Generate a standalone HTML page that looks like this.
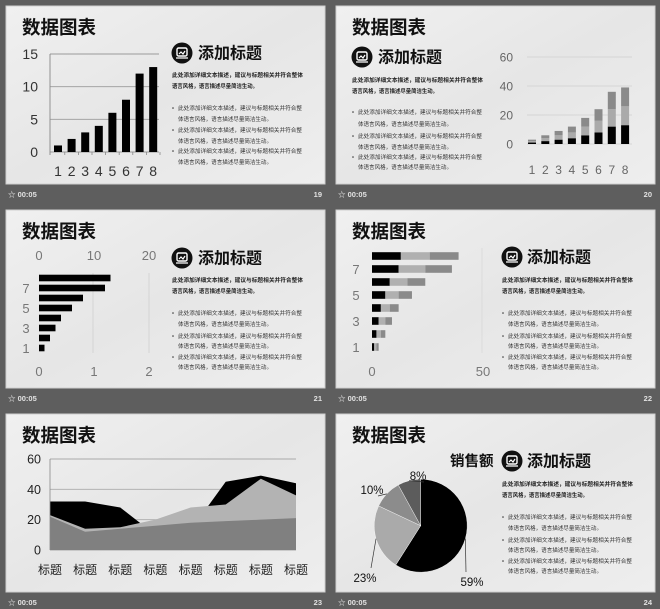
<!DOCTYPE html>
<html><head><meta charset="utf-8">
<style>
html,body{margin:0;padding:0;background:#5e5e5e;}
svg{display:block;font-family:"Liberation Sans","Noto Sans CJK SC",sans-serif;}
</style></head>
<body>
<svg id="root" width="660" height="609" viewBox="0 0 660 609">
<defs>
<linearGradient id="paper" x1="0" y1="0" x2="1" y2="1">
<stop offset="0" stop-color="#f0f0f0"/><stop offset="0.5" stop-color="#e6e6e6"/><stop offset="1" stop-color="#eeeeee"/>
</linearGradient>
</defs>
</svg>
<script>
// ---- chart data ----
const S1_CATS=["1","2","3","4","5","6","7","8"];
const S1_VALS=[1,2,3,4,6,8,12,13];
const S1_TICKS=[0,5,10,15];
const S2_CATS=["1","2","3","4","5","6","7","8"];
const S2_A=[1,2,3,4,6,8,12,13];
const S2_B=[1,2,3,4,6,8,12,13];
const S2_C=[1,2,3,4,6,8,12,13];
const S2_TICKS=[0,20,40,60];
const S3_VALS=[1,2,3,4,6,8,12,13];
const S3_TOP_TICKS=[0,10,20];
const S3_BOTTOM_TICKS=[0,1,2];
const S3_LEFT_LABELS=["1","3","5","7"];
const S4_A=[1,2,3,4,6,8,12,13];
const S4_B=[1,2,3,4,6,8,12,13];
const S4_C=[1,2,3,4,6,8,12,13];
const S4_TICKS=[0,50];
const S4_LEFT_LABELS=["1","3","5","7"];
const S5_CATS=["标题","标题","标题","标题","标题","标题","标题","标题"];
const S5_BLACK=[32,32,28,10,13,45,49,44];
const S5_LIGHT=[23,14,15,20,28,30,47,36];
const S5_DARK=[22,12,14,16,18,19,20,21];
const S5_TICKS=[0,20,40,60];
const S6_LABELS=["59%","23%","10%","8%"];
const S6_VALS=[59,23,10,8];

const NS="http://www.w3.org/2000/svg";
const root=document.getElementById('root');
function mk(tag,attrs,parent,txt){const e=document.createElementNS(NS,tag);for(const k in attrs)e.setAttribute(k,attrs[k]);if(txt!==undefined)e.textContent=txt;(parent||root).appendChild(e);return e;}

const slides=[[6,6,"19"],[336,6,"20"],[6,210,"21"],[336,210,"22"],[6,414,"23"],[336,414,"24"]];
const G=[];
slides.forEach((s,i)=>{
  const g=mk('g',{transform:`translate(${s[0]},${s[1]})`});
  
  
  const bg=mk('rect',{x:0,y:0,width:319,height:178,fill:'url(#paper)',stroke:'#cfcfcf','stroke-width':1},g);
  
  
  const t=mk('text',{x:16,y:28,'font-size':18.5,'font-weight':'bold',fill:'#111'},g,'数据图表');
  
  
  const fy=s[1]+191;
  const ft=mk('text',{x:s[0]+2,y:fy,'font-size':7.5,'font-weight':'bold',fill:'#e2e2e2'},root,'☆ 00:05');
  
  
  const fn=mk('text',{x:s[0]+316,y:fy,'font-size':7.5,'font-weight':'bold',fill:'#e2e2e2','text-anchor':'end'},root,s[2]);
  
  
  G.push(g);
});

function textBlock(g,ix,iy,hx,px,py,bx,by){
  const ic=mk('g',{},g);
  
  
  mk('circle',{cx:ix,cy:iy,r:10.5,fill:'#111'},ic);
  mk('rect',{x:ix-5,y:iy-5,width:10,height:8,rx:1.5,fill:'none',stroke:'#fff','stroke-width':1.4},ic);
  mk('path',{d:`M${ix-3} ${iy+1} L${ix-1} ${iy-1} L${ix+1} ${iy+1} L${ix+3} ${iy-2} M${ix-6} ${iy+5} L${ix+6} ${iy+5}`,fill:'none',stroke:'#fff','stroke-width':1.2},ic);
  const h=mk('text',{x:hx,y:iy+5.5,'font-size':16,'font-weight':'bold',fill:'#111'},g,'添加标题');
  
  
  const p1=mk('text',{x:px,y:py,'font-size':5.6,'font-weight':'bold',fill:'#222',textLength:131,lengthAdjust:'spacingAndGlyphs'},g,'此处添加详细文本描述，建议与标题相关并符合整体');
  
  
  const p2=mk('text',{x:px,y:py+11,'font-size':5.6,'font-weight':'bold',fill:'#222',textLength:86,lengthAdjust:'spacingAndGlyphs'},g,'语言风格，语言描述尽量简洁生动。');
  
  
  for(let k=0;k<3;k++){
    const y0=by[2*k],y1=by[2*k+1];
    const d=mk('circle',{cx:bx,cy:y0-2,r:0.8,fill:'#333'},g);
    
    
    const a=mk('text',{x:bx+5,y:y0,'font-size':5.4,fill:'#333',textLength:124,lengthAdjust:'spacingAndGlyphs'},g,'此处添加详细文本描述，建议与标题相关并符合整');
    
    
    const b=mk('text',{x:bx+5,y:y1,'font-size':5.4,fill:'#333',textLength:94,lengthAdjust:'spacingAndGlyphs'},g,'体语言风格，语言描述尽量简洁生动。');
    
    
  }
}
textBlock(G[0],176,47,192,166,71,167,[104,115,126,137,147,158]);
textBlock(G[1],26,51,42,16,76,17,[108,120,132,143,153,163]);
textBlock(G[2],176,48,192,166,72,167,[105,116,128,138,149,159]);
textBlock(G[3],176,47,191,166,72,167,[105,116,128,138,149,159]);
textBlock(G[5],176,47,191,166,72,167,[105,116,128,138,149,159]);

// ---- slide 1: column chart ----
(function(){
  const g=G[0];
  const y=v=>146-v/15*98, x=i=>52+i*13.6;
  S1_TICKS.forEach(t=>{
    const l=mk('line',{x1:44,x2:153,y1:y(t),y2:y(t),stroke:'#9a9a9a','stroke-width':0.9},g);
    
    
    const tl=mk('text',{x:32,y:y(t)+5,'font-size':14,fill:'#333','text-anchor':'end'},g,String(t));
    
    
  });
  const ax=mk('line',{x1:44,x2:44,y1:y(15),y2:y(0)+3,stroke:'#888','stroke-width':0.9},g);
  
  
  S1_VALS.forEach((v,i)=>{
    const b=mk('rect',{x:x(i)-4,y:y(v),width:8,height:y(0)-y(v),fill:'#000'},g);
    
    
    const tl=mk('text',{x:x(i),y:170,'font-size':14,fill:'#333','text-anchor':'middle'},g,S1_CATS[i]);
    
    
    mk('line',{x1:x(i)+6.8,x2:x(i)+6.8,y1:y(0),y2:y(0)+3,stroke:'#888','stroke-width':0.8},g);
  });
})();

// ---- slide 2: stacked columns ----
(function(){
  const g=G[1];
  const y=v=>138-v/60*87, x=i=>196+i*13.3;
  S2_TICKS.forEach(t=>{
    const l=mk('line',{x1:191,x2:296,y1:y(t),y2:y(t),stroke:'#cfcfcf','stroke-width':0.8},g);
    
    
    const tl=mk('text',{x:177,y:y(t)+4.5,'font-size':12,fill:'#666','text-anchor':'end'},g,String(t));
    
    
  });
  const series=[[S2_A,'#000'],[S2_B,'#aaaaaa'],[S2_C,'#8a8a8a']];
  S2_CATS.forEach((c,i)=>{
    let base=0;
    series.forEach((s,k)=>{
      const v=s[0][i];
      const r=mk('rect',{x:x(i)-4,y:y(base+v),width:8,height:y(base)-y(base+v),fill:s[1]},g);
      
      
      base+=v;
    });
    const tl=mk('text',{x:x(i),y:168,'font-size':12,fill:'#666','text-anchor':'middle'},g,c);
    
    
  });
})();

// ---- slide 3: horizontal bars ----
(function(){
  const g=G[2];
  const x=v=>33+v*5.5, yb=i=>138-i*10;
  [87,143].forEach(gx=>{
    const l=mk('line',{x1:gx,x2:gx,y1:63,y2:143,stroke:'#d0d0d0','stroke-width':0.8},g);
    
    
  });
  S3_TOP_TICKS.forEach(t=>{
    const tl=mk('text',{x:x(t),y:50,'font-size':13,fill:'#777','text-anchor':'middle'},g,String(t));
    
    
  });
  S3_BOTTOM_TICKS.forEach(t=>{
    const tl=mk('text',{x:33+t*55,y:166,'font-size':13,fill:'#777','text-anchor':'middle'},g,String(t));
    
    
  });
  S3_VALS.forEach((v,i)=>{
    const b=mk('rect',{x:x(0),y:yb(i)-3.3,width:x(v)-x(0),height:6.6,fill:'#000'},g);
    
    
  });
  S3_LEFT_LABELS.forEach(l=>{
    const i=parseInt(l)-1;
    const tl=mk('text',{x:20,y:yb(i)+5,'font-size':13,fill:'#777','text-anchor':'middle'},g,l);
    
    
  });
})();

// ---- slide 4: stacked horizontal bars ----
(function(){
  const g=G[3];
  const x=v=>36+v*2.22, yb=i=>137-i*13;
  const vl=mk('line',{x1:146,x2:146,y1:38,y2:143,stroke:'#d8d8d8','stroke-width':0.8},g);
  
  
  S4_TICKS.forEach(t=>{
    const tl=mk('text',{x:x(t),y:166,'font-size':13,fill:'#777','text-anchor':'middle'},g,String(t));
    
    
  });
  const series=[[S4_A,'#000'],[S4_B,'#b0b0b0'],[S4_C,'#8a8a8a']];
  S4_A.forEach((_,i)=>{
    let base=0;
    series.forEach((s,k)=>{
      const v=s[0][i];
      const r=mk('rect',{x:x(base),y:yb(i)-3.8,width:x(base+v)-x(base),height:7.6,fill:s[1]},g);
      
      
      base+=v;
    });
  });
  S4_LEFT_LABELS.forEach(l=>{
    const i=parseInt(l)-1;
    const tl=mk('text',{x:20,y:yb(i)+5,'font-size':13,fill:'#777','text-anchor':'middle'},g,l);
    
    
  });
})();

// ---- slide 5: area chart ----
(function(){
  const g=G[4];
  const y=v=>136-v/60*91, x=i=>44+i*(246/7);
  S5_TICKS.forEach(t=>{
    const l=mk('line',{x1:44,x2:290,y1:y(t),y2:y(t),stroke:'#aaa','stroke-width':0.9},g);
    
    
    const tl=mk('text',{x:35,y:y(t)+4.5,'font-size':12.5,fill:'#222','text-anchor':'end'},g,String(t));
    
    
  });
  const series=[[S5_BLACK,'#000','area-series-1'],[S5_LIGHT,'#b3b3b3','area-series-2'],[S5_DARK,'#808080','area-series-3']];
  series.forEach(s=>{
    let d=`M${x(0)} ${y(0)}`;
    s[0].forEach((v,i)=>{d+=` L${x(i)} ${y(v)}`;});
    d+=` L${x(s[0].length-1)} ${y(0)} Z`;
    const p=mk('path',{d:d,fill:s[1]},g);
    
    
  });
  const ax=mk('line',{x1:44,x2:44,y1:y(60),y2:y(0),stroke:'#888','stroke-width':0.8},g);
  
  
  S5_CATS.forEach((c,i)=>{
    const tl=mk('text',{x:x(i),y:160,'font-size':12,fill:'#222','text-anchor':'middle'},g,c);
    
    
  });
})();

// ---- slide 6: pie chart ----
(function(){
  const g=G[5];
  const cx=84.7, cy=111.7, r=46.5;
  const colors=['#000','#aaaaaa','#8c8c8c','#5c5c5c'];
  const labelPos=[[136,172,1],[29,168,0],[36,80,0],[82,66,0]];
  const total=S6_VALS.reduce((a,b)=>a+b,0);
  let a0=0;
  S6_VALS.forEach((v,i)=>{
    const a1=a0+v/total*Math.PI*2;
    const p=(a)=>[cx+r*Math.sin(a),cy-r*Math.cos(a)];
    const s=p(a0),e=p(a1);
    const large=(a1-a0)>Math.PI?1:0;
    const sl=mk('path',{d:`M${cx} ${cy} L${s[0]} ${s[1]} A${r} ${r} 0 ${large} 1 ${e[0]} ${e[1]} Z`,fill:colors[i],stroke:'#fff','stroke-width':0.4},g);
    
    
    const mid=(a0+a1)/2, edge=[cx+r*Math.sin(mid),cy-r*Math.cos(mid)];
    const lp=labelPos[i];
    const ly=lp[1]-(lp[1]>cy?14:-2);
    const ln=mk('line',{x1:edge[0],y1:edge[1],x2:lp[0]+(lp[0]>cx?-6:6),y2:ly,stroke:'#333','stroke-width':0.7},g);
    
    
    const tl=mk('text',{x:lp[0],y:lp[1],'font-size':11.5,fill:'#111','text-anchor':'middle'},g,S6_LABELS[i]);
    
    
    a0=a1;
  });
  const t=mk('text',{x:114,y:52,'font-size':14.5,'font-weight':'bold',fill:'#111'},g,'销售额');
  
  
})();
</script>
</body></html>
